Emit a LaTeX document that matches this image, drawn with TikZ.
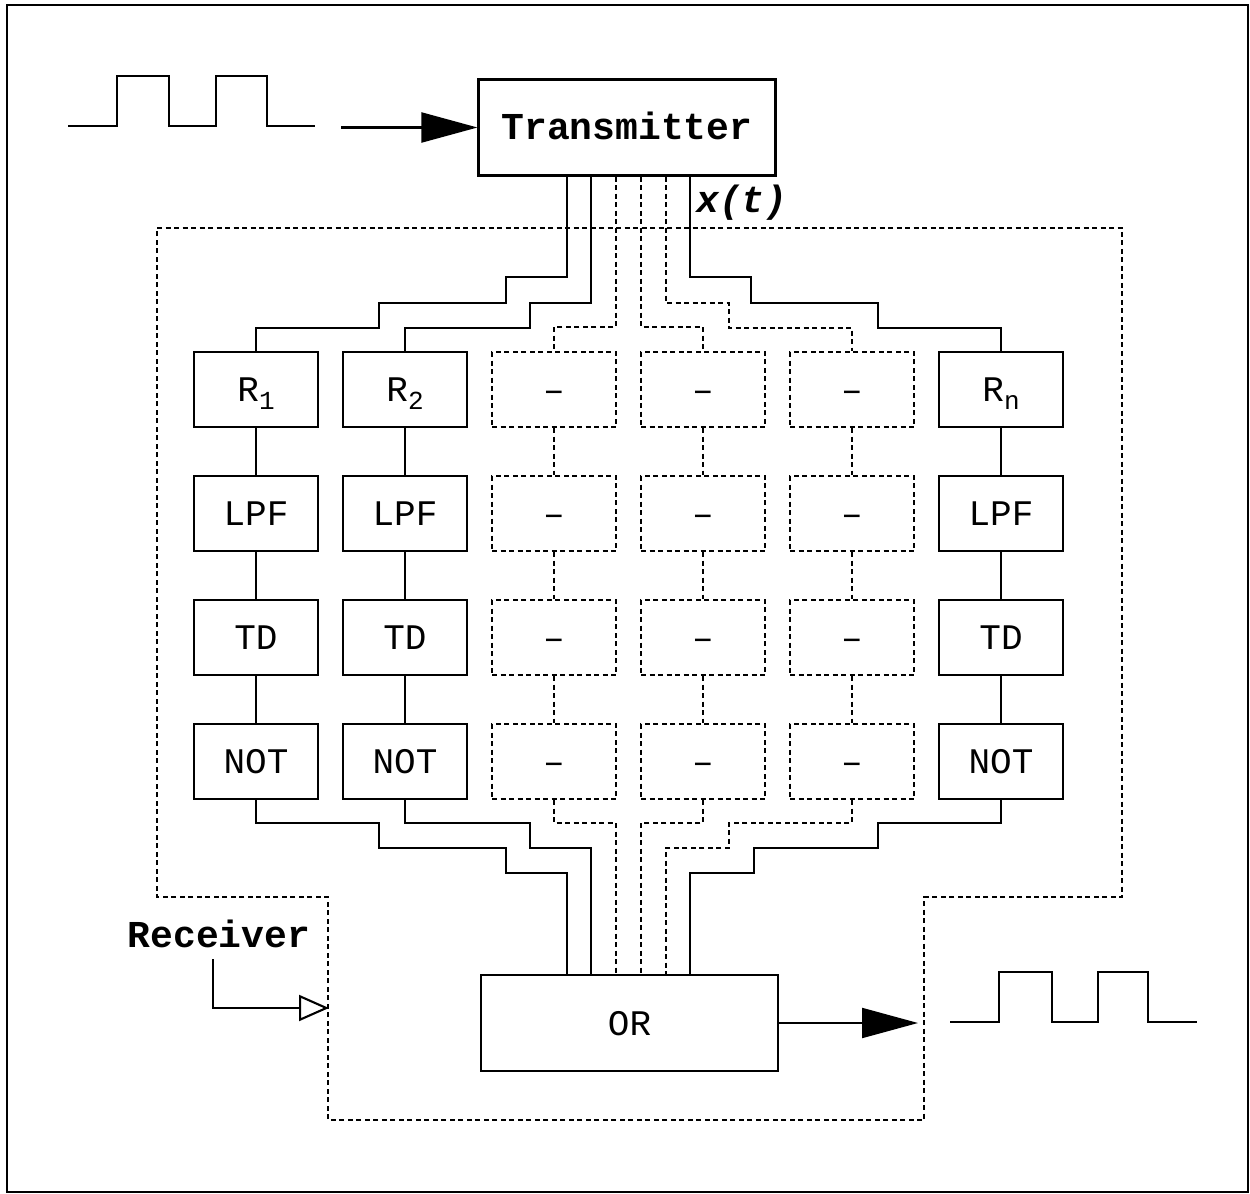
\documentclass[tikz,border=0pt]{standalone}
\usepackage{fontspec}
\newfontfamily\cour{Liberation Mono}
\usetikzlibrary{arrows.meta}
\begin{document}
\begin{tikzpicture}[x=0.5pt,y=-0.5pt,line width=1.05pt,
  dsh/.style={dash pattern=on 2.5pt off 1.75pt},
  txt/.style={font=\cour\fontsize{18}{18}\selectfont},
  btxt/.style={font=\cour\bfseries\fontsize{19}{19}\selectfont},
  blk/.style={draw,txt,minimum width=62pt,minimum height=37.5pt,inner sep=0pt,text height=12pt,text depth=0pt},
  dblk/.style={blk,dsh},
  bigblk/.style={draw,minimum width=148.5pt,minimum height=48pt,inner sep=0pt,text height=12pt,text depth=0pt},
  fillarrow/.style={-{Triangle[length=28pt,width=15pt]}},
  openarrow/.style={-{Triangle[open,length=15pt,width=13pt]}}]
\useasboundingbox (0,0) rectangle (1250,1194);
% outer frame
\draw (7,5) rectangle (1248,1192);
% receiver boundary
\draw[dsh] (157,228) -- (1122,228) -- (1122,897) -- (924,897) -- (924,1120) -- (328,1120) -- (328,897) -- (157,897) -- cycle;
% main blocks
\node[bigblk,btxt] (T) at (627,127.5) {Transmitter};
\node[bigblk,txt] (OR) at (629.5,1023) {OR};
% column blocks
\node[blk] (r1) at (256,389.5) {R\raisebox{-4pt}{\fontsize{13}{13}\selectfont 1}};
\node[blk] (r2) at (405,389.5) {R\raisebox{-4pt}{\fontsize{13}{13}\selectfont 2}};
\node[dblk] (r3) at (554,389.5) {–};
\node[dblk] (r4) at (703,389.5) {–};
\node[dblk] (r5) at (852,389.5) {–};
\node[blk] (r6) at (1001,389.5) {R\raisebox{-4pt}{\fontsize{13}{13}\selectfont n}};
\node[blk] (l1) at (256,513.5) {LPF};
\node[blk] (l2) at (405,513.5) {LPF};
\node[dblk] (l3) at (554,513.5) {–};
\node[dblk] (l4) at (703,513.5) {–};
\node[dblk] (l5) at (852,513.5) {–};
\node[blk] (l6) at (1001,513.5) {LPF};
\node[blk] (t1) at (256,637.5) {TD};
\node[blk] (t2) at (405,637.5) {TD};
\node[dblk] (t3) at (554,637.5) {–};
\node[dblk] (t4) at (703,637.5) {–};
\node[dblk] (t5) at (852,637.5) {–};
\node[blk] (t6) at (1001,637.5) {TD};
\node[blk] (n1) at (256,761.5) {NOT};
\node[blk] (n2) at (405,761.5) {NOT};
\node[dblk] (n3) at (554,761.5) {–};
\node[dblk] (n4) at (703,761.5) {–};
\node[dblk] (n5) at (852,761.5) {–};
\node[blk] (n6) at (1001,761.5) {NOT};
% vertical connectors in columns
\foreach \i in {1,2,6} {
  \draw (r\i) -- (l\i);
  \draw (l\i) -- (t\i);
  \draw (t\i) -- (n\i);
}
\foreach \i in {3,4,5} {
  \draw[dsh] (r\i) -- (l\i);
  \draw[dsh] (l\i) -- (t\i);
  \draw[dsh] (t\i) -- (n\i);
}
% wires from transmitter
\draw (T.south -| 567,0) -- (567,277) -| (506,303) -| (379,328) -| (r1.north);
\draw (T.south -| 591,0) -- (591,303) -| (530,328) -| (r2.north);
\draw[dsh] (T.south -| 616,0) -- (616,327) -| (r3.north);
\draw[dsh] (T.south -| 641,0) -- (641,327) -| (r4.north);
\draw[dsh] (T.south -| 666,0) -- (666,303) -| (729,328) -| (r5.north);
\draw (T.south -| 690,0) -- (690,277) -| (751,303) -| (878,328) -| (r6.north);
% wires to OR
\draw (n1.south) |- (379,823) |- (506,848) |- (567,873) -- (OR.north -| 567,0);
\draw (n2.south) |- (530,823) |- (591,848) -- (OR.north -| 591,0);
\draw[dsh] (n3.south) |- (616,823) -- (OR.north -| 616,0);
\draw[dsh] (n4.south) |- (641,823) -- (OR.north -| 641,0);
\draw[dsh] (n5.south) |- (729,823) |- (666,848) -- (OR.north -| 666,0);
\draw (n6.south) |- (878,823) |- (754,848) |- (690,873) -- (OR.north -| 690,0);
% x(t) label
\node[font=\cour\bfseries\itshape\fontsize{19}{19}\selectfont,anchor=base,inner sep=0pt] (xt) at (742,212) {x(t)};
% input signal
\draw (68,126) -- (117,126) -- (117,76) -- (169,76) -- (169,126) -- (216,126) -- (216,76) -- (267,76) -- (267,126) -- (315,126);
\coordinate (inStart) at (341,127.5);
\draw[fillarrow] (inStart) -- (T.west);
% output
\coordinate (outEnd) at (918,1023);
\draw[fillarrow] (OR.east) -- (outEnd);
\draw (950,1022) -- (999,1022) -- (999,972) -- (1052,972) -- (1052,1022) -- (1098,1022) -- (1098,972) -- (1148,972) -- (1148,1022) -- (1197,1022);
% receiver label
\node[btxt,anchor=base,inner sep=0pt] (rec) at (219,947) {Receiver};
\coordinate (recStart) at (213,959);
\coordinate (recEnd) at (329,1008);
\draw[openarrow] (recStart) |- (recEnd);
\end{tikzpicture}
\end{document}
